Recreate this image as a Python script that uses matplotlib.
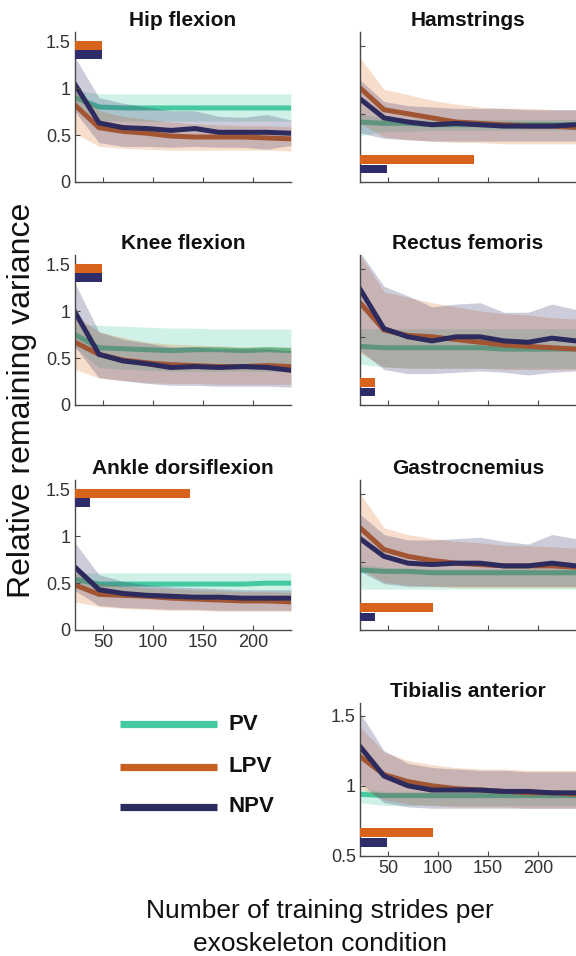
import matplotlib
matplotlib.use("Agg")
import matplotlib.pyplot as plt
from matplotlib.lines import Line2D

plt.rcParams['font.family'] = ['Liberation Sans', 'DejaVu Sans']

strides = [22, 46, 70, 94, 118, 142, 166, 190, 214, 238]
series_names = ["PV", "LPV", "NPV"]

# ---- Hip flexion ----
hip_pv = [0.90, 0.80, 0.79, 0.79, 0.79, 0.79, 0.79, 0.79, 0.79, 0.79]
hip_pv_hi = [0.98, 0.94, 0.94, 0.94, 0.94, 0.94, 0.94, 0.94, 0.94, 0.94]
hip_pv_lo = [0.82, 0.66, 0.65, 0.65, 0.65, 0.65, 0.65, 0.65, 0.65, 0.65]
hip_lpv = [0.82, 0.58, 0.54, 0.52, 0.49, 0.48, 0.48, 0.48, 0.47, 0.46]
hip_lpv_hi = [1.00, 0.76, 0.70, 0.67, 0.64, 0.62, 0.61, 0.60, 0.60, 0.59]
hip_lpv_lo = [0.52, 0.38, 0.36, 0.35, 0.34, 0.34, 0.34, 0.34, 0.34, 0.33]
hip_npv = [1.04, 0.63, 0.58, 0.57, 0.55, 0.57, 0.53, 0.53, 0.53, 0.52]
hip_npv_hi = [1.33, 0.90, 0.84, 0.80, 0.76, 0.76, 0.70, 0.69, 0.72, 0.66]
hip_npv_lo = [0.75, 0.42, 0.38, 0.38, 0.37, 0.38, 0.37, 0.37, 0.35, 0.39]
hip_bars = [49, 49]  # LPV, NPV

# ---- Knee flexion ----
knee_pv = [0.75, 0.61, 0.60, 0.59, 0.58, 0.59, 0.59, 0.58, 0.59, 0.58]
knee_pv_hi = [0.86, 0.85, 0.84, 0.83, 0.82, 0.82, 0.81, 0.81, 0.81, 0.81]
knee_pv_lo = [0.62, 0.40, 0.38, 0.37, 0.36, 0.36, 0.36, 0.36, 0.36, 0.36]
knee_lpv = [0.67, 0.54, 0.48, 0.45, 0.43, 0.42, 0.41, 0.41, 0.42, 0.41]
knee_lpv_hi = [0.95, 0.78, 0.72, 0.67, 0.65, 0.64, 0.63, 0.62, 0.62, 0.62]
knee_lpv_lo = [0.38, 0.29, 0.26, 0.24, 0.23, 0.23, 0.22, 0.22, 0.22, 0.22]
knee_npv = [0.99, 0.54, 0.47, 0.44, 0.40, 0.41, 0.40, 0.41, 0.40, 0.37]
knee_npv_hi = [1.30, 0.78, 0.70, 0.66, 0.62, 0.62, 0.60, 0.60, 0.60, 0.58]
knee_npv_lo = [0.62, 0.29, 0.26, 0.23, 0.21, 0.21, 0.20, 0.20, 0.20, 0.19]
knee_bars = [49, 49]

# ---- Ankle dorsiflexion ----
ankle_pv = [0.54, 0.49, 0.49, 0.49, 0.49, 0.49, 0.49, 0.49, 0.50, 0.50]
ankle_pv_hi = [0.60, 0.61, 0.61, 0.61, 0.61, 0.61, 0.61, 0.61, 0.61, 0.61]
ankle_pv_lo = [0.46, 0.38, 0.38, 0.38, 0.38, 0.38, 0.38, 0.38, 0.38, 0.38]
ankle_lpv = [0.48, 0.38, 0.37, 0.36, 0.34, 0.33, 0.32, 0.31, 0.31, 0.30]
ankle_lpv_hi = [0.62, 0.50, 0.47, 0.45, 0.44, 0.43, 0.42, 0.41, 0.41, 0.40]
ankle_lpv_lo = [0.30, 0.25, 0.23, 0.22, 0.21, 0.21, 0.20, 0.20, 0.20, 0.20]
ankle_npv = [0.67, 0.43, 0.39, 0.37, 0.36, 0.35, 0.35, 0.34, 0.34, 0.34]
ankle_npv_hi = [0.93, 0.59, 0.52, 0.48, 0.46, 0.45, 0.44, 0.43, 0.43, 0.43]
ankle_npv_lo = [0.42, 0.26, 0.24, 0.23, 0.22, 0.22, 0.21, 0.21, 0.21, 0.21]
ankle_bars = [137, 37]

# ---- Hamstrings ----
ham_pv = [0.94, 0.93, 0.93, 0.92, 0.92, 0.92, 0.92, 0.92, 0.92, 0.92]
ham_pv_hi = [1.00, 0.97, 0.96, 0.96, 0.96, 0.96, 0.96, 0.96, 0.96, 0.96]
ham_pv_lo = [0.84, 0.87, 0.87, 0.88, 0.88, 0.88, 0.88, 0.88, 0.88, 0.88]
ham_lpv = [1.19, 1.03, 1.00, 0.97, 0.94, 0.93, 0.92, 0.91, 0.91, 0.90]
ham_lpv_hi = [1.41, 1.18, 1.14, 1.10, 1.07, 1.05, 1.04, 1.04, 1.03, 1.03]
ham_lpv_lo = [0.93, 0.83, 0.81, 0.80, 0.79, 0.79, 0.78, 0.78, 0.78, 0.78]
ham_npv = [1.11, 0.97, 0.94, 0.92, 0.93, 0.92, 0.91, 0.91, 0.91, 0.92]
ham_npv_hi = [1.25, 1.09, 1.06, 1.05, 1.04, 1.04, 1.04, 1.03, 1.03, 1.03]
ham_npv_lo = [0.86, 0.82, 0.81, 0.80, 0.80, 0.80, 0.80, 0.80, 0.80, 0.80]
ham_bars = [136, 49]

# ---- Rectus femoris ----
rf_pv = [0.93, 0.92, 0.92, 0.92, 0.92, 0.92, 0.91, 0.91, 0.91, 0.91]
rf_pv_hi = [1.06, 1.06, 1.06, 1.06, 1.06, 1.06, 1.06, 1.06, 1.06, 1.06]
rf_pv_lo = [0.80, 0.78, 0.77, 0.77, 0.77, 0.77, 0.77, 0.77, 0.77, 0.77]
rf_lpv = [1.25, 1.05, 1.01, 1.00, 0.98, 0.96, 0.94, 0.93, 0.92, 0.91]
rf_lpv_hi = [1.60, 1.33, 1.29, 1.25, 1.22, 1.19, 1.17, 1.16, 1.14, 1.13]
rf_lpv_lo = [0.88, 0.78, 0.77, 0.77, 0.77, 0.77, 0.76, 0.76, 0.76, 0.76]
rf_npv = [1.35, 1.06, 1.00, 0.97, 1.00, 1.00, 0.97, 0.96, 0.99, 0.97]
rf_npv_hi = [1.62, 1.37, 1.30, 1.22, 1.24, 1.25, 1.18, 1.18, 1.24, 1.20]
rf_npv_lo = [0.90, 0.76, 0.73, 0.73, 0.74, 0.75, 0.74, 0.72, 0.74, 0.75]
rf_bars = [37, 37]

# ---- Gastrocnemius ----
gas_pv = [0.94, 0.93, 0.93, 0.92, 0.92, 0.92, 0.92, 0.92, 0.92, 0.92]
gas_pv_hi = [0.98, 0.96, 0.95, 0.95, 0.95, 0.95, 0.95, 0.95, 0.95, 0.95]
gas_pv_lo = [0.80, 0.80, 0.80, 0.80, 0.80, 0.80, 0.80, 0.80, 0.80, 0.80]
gas_lpv = [1.25, 1.09, 1.04, 1.01, 0.99, 0.98, 0.97, 0.97, 0.97, 0.96]
gas_lpv_hi = [1.50, 1.25, 1.20, 1.17, 1.15, 1.14, 1.12, 1.12, 1.11, 1.10]
gas_lpv_lo = [0.95, 0.85, 0.83, 0.82, 0.81, 0.81, 0.81, 0.81, 0.81, 0.81]
gas_npv = [1.17, 1.04, 0.99, 0.98, 0.99, 0.99, 0.97, 0.97, 0.99, 0.97]
gas_npv_hi = [1.35, 1.20, 1.16, 1.16, 1.17, 1.18, 1.15, 1.13, 1.20, 1.17]
gas_npv_lo = [0.93, 0.84, 0.82, 0.82, 0.82, 0.82, 0.82, 0.82, 0.82, 0.82]
gas_bars = [95, 37]

# ---- Tibialis anterior ----
ta_pv = [0.94, 0.93, 0.93, 0.93, 0.93, 0.93, 0.93, 0.93, 0.93, 0.93]
ta_pv_hi = [0.98, 0.96, 0.96, 0.96, 0.96, 0.96, 0.96, 0.96, 0.96, 0.96]
ta_pv_lo = [0.88, 0.86, 0.86, 0.86, 0.86, 0.86, 0.86, 0.86, 0.86, 0.86]
ta_lpv = [1.21, 1.08, 1.03, 1.00, 0.98, 0.97, 0.96, 0.95, 0.95, 0.94]
ta_lpv_hi = [1.42, 1.24, 1.18, 1.15, 1.13, 1.12, 1.12, 1.11, 1.11, 1.11]
ta_lpv_lo = [0.98, 0.90, 0.87, 0.86, 0.85, 0.85, 0.85, 0.84, 0.84, 0.84]
ta_npv = [1.28, 1.07, 1.00, 0.97, 0.97, 0.97, 0.96, 0.96, 0.95, 0.95]
ta_npv_hi = [1.52, 1.25, 1.16, 1.13, 1.12, 1.11, 1.11, 1.10, 1.10, 1.10]
ta_npv_lo = [1.02, 0.88, 0.85, 0.84, 0.84, 0.84, 0.84, 0.84, 0.84, 0.84]
ta_bars = [95, 49]

x_ticks = [50, 100, 150, 200]
left_yticks = [0, 0.5, 1, 1.5]
left_ylabels = ["0", "0.5", "1", "1.5"]
right_yticks = [0.5, 1, 1.5]
right_ylabels = ["0.5", "1", "1.5"]

line_colors = {"PV": "#45C9A0", "LPV": "#C5601F", "NPV": "#2D2A5E"}
band_colors = {"PV": "#45C9A0", "LPV": "#E07A30", "NPV": "#3A3770"}
bar_colors = {"LPV": "#D8641B", "NPV": "#2F2C6A"}

W, H = 576, 956
fig = plt.figure(figsize=(W / 100, H / 100), dpi=100)

def px_axes(x0, x1, ybot, ytop):
    return fig.add_axes([x0 / W, 1 - ybot / H, (x1 - x0) / W, (ybot - ytop) / H])

panels = [
    ("Hip flexion", (75, 291, 182, 32), "left", False,
     (hip_pv, hip_pv_lo, hip_pv_hi), (hip_lpv, hip_lpv_lo, hip_lpv_hi), (hip_npv, hip_npv_lo, hip_npv_hi), hip_bars),
    ("Knee flexion", (75, 291, 405, 255), "left", False,
     (knee_pv, knee_pv_lo, knee_pv_hi), (knee_lpv, knee_lpv_lo, knee_lpv_hi), (knee_npv, knee_npv_lo, knee_npv_hi), knee_bars),
    ("Ankle dorsiflexion", (75, 291, 630, 480), "left", True,
     (ankle_pv, ankle_pv_lo, ankle_pv_hi), (ankle_lpv, ankle_lpv_lo, ankle_lpv_hi), (ankle_npv, ankle_npv_lo, ankle_npv_hi), ankle_bars),
    ("Hamstrings", (360, 576, 182, 32), "right", False,
     (ham_pv, ham_pv_lo, ham_pv_hi), (ham_lpv, ham_lpv_lo, ham_lpv_hi), (ham_npv, ham_npv_lo, ham_npv_hi), ham_bars),
    ("Rectus femoris", (360, 576, 405, 255), "right", False,
     (rf_pv, rf_pv_lo, rf_pv_hi), (rf_lpv, rf_lpv_lo, rf_lpv_hi), (rf_npv, rf_npv_lo, rf_npv_hi), rf_bars),
    ("Gastrocnemius", (360, 576, 630, 480), "right", False,
     (gas_pv, gas_pv_lo, gas_pv_hi), (gas_lpv, gas_lpv_lo, gas_lpv_hi), (gas_npv, gas_npv_lo, gas_npv_hi), gas_bars),
    ("Tibialis anterior", (360, 576, 856, 703), "tib", True,
     (ta_pv, ta_pv_lo, ta_pv_hi), (ta_lpv, ta_lpv_lo, ta_lpv_hi), (ta_npv, ta_npv_lo, ta_npv_hi), ta_bars),
]

axis_col = "#4a4a4a"
for title, (x0, x1, yb, yt), kind, xlab, pv, lpv, npv, bars in panels:
    ax = px_axes(x0, x1, yb, yt)
    for name, (m, lo, hi) in zip(series_names, (pv, lpv, npv)):
        ax.fill_between(strides, lo, hi, color=band_colors[name], alpha=0.25, lw=0, zorder=1)
        ax.plot(strides, m, color=line_colors[name], lw=3.6, zorder=1, solid_joinstyle="miter")
    if kind == "left":
        ax.set_ylim(0, 1.6)
        bar_y = (1.46, 1.36)
        bar_h = 0.095
        ax.set_yticks(left_yticks)
        ax.set_yticklabels(left_ylabels)
    else:
        ax.set_ylim(0.5, 1.6 if kind == "right" else 1.59)
        bar_y = (0.665, 0.595)
        bar_h = 0.065
        ax.set_yticks(right_yticks)
        if kind == "tib":
            ax.set_yticklabels(right_ylabels)
        else:
            ax.set_yticklabels([])
    ax.barh(bar_y[0], bars[0] - strides[0], left=strides[0], height=bar_h,
            color=bar_colors["LPV"], zorder=4)
    ax.barh(bar_y[1], bars[1] - strides[0], left=strides[0], height=bar_h,
            color=bar_colors["NPV"], zorder=4)
    ax.set_xlim(strides[0], strides[-1])
    ax.set_xticks(x_ticks)
    if not xlab:
        ax.set_xticklabels([])
    ax.set_title(title, fontsize=15, fontweight="bold", pad=4, color="#111111")
    for s in ("top", "right"):
        ax.spines[s].set_visible(False)
    for s in ("left", "bottom"):
        ax.spines[s].set_color(axis_col)
        ax.spines[s].set_linewidth(1.0)
    ax.tick_params(direction="in", length=3.5, width=0.8, color=axis_col,
                   labelsize=13, labelcolor="#333333", pad=3)
    ax.set_facecolor("none")

fig.text(22 / W, 1 - 400 / H, "Relative remaining variance", rotation=90,
         ha="center", va="center", fontsize=23, color="#111111")
fig.text(320 / W, 1 - 918 / H, "Number of training strides per", ha="center",
         va="baseline", fontsize=19, color="#111111")
fig.text(320 / W, 1 - 951 / H, "exoskeleton condition", ha="center",
         va="baseline", fontsize=19, color="#111111")

# legend
leg_y = [724, 767, 807]
for name, yy in zip(series_names, leg_y):
    fig.add_artist(Line2D([120 / W, 217 / W], [1 - yy / H, 1 - yy / H],
                          transform=fig.transFigure, color=line_colors[name],
                          lw=5.2, solid_capstyle="butt"))
    fig.text(229 / W, 1 - yy / H, name, ha="left", va="center", fontsize=16,
             fontweight="bold", color="#111111")

fig.savefig("out.png", dpi=100)
